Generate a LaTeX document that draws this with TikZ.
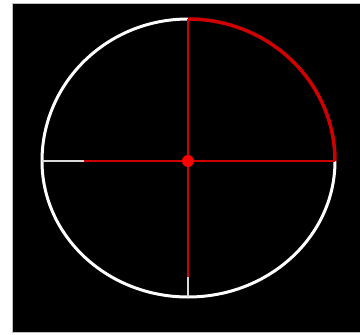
\documentclass[tikz,border=0pt]{standalone}
\begin{document}
\begin{tikzpicture}[x=1pt,y=-1pt,
  rim/.style={draw=white,line width=3pt},
  redline/.style={draw=red!82!black,line width=2.4pt},
  redarc/.style={draw=red!82!black,line width=3.5pt},
  stub/.style={draw=white!85!black,line width=2pt}]
\useasboundingbox (0,0) rectangle (360,335);
\fill[white] (0,0) rectangle (360,335);
\draw[fill=black,draw=gray!50,line width=1pt] (13,3.5) rectangle (361,332.5);
\coordinate (c) at (188,161);
\coordinate (t) at (188,19);
\coordinate (b) at (188,297);
\coordinate (l) at (42,161);
\coordinate (r) at (335,161);
\coordinate (hl) at (84,161);
\coordinate (vb) at (188,277);
% rim
\draw[rim] (t) arc[start angle=-90,end angle=-180,x radius=146,y radius=142];
\draw[rim] (l) arc[start angle=180,end angle=90,x radius=146,y radius=136];
\draw[rim] (b) arc[start angle=90,end angle=0,x radius=147,y radius=136];
\draw[redarc] (r) arc[start angle=0,end angle=-90,x radius=147,y radius=142];
% stubs
\draw[stub] (l) -- (hl);
\draw[stub] (vb) -- (b);
% red cross
\draw[redline] (hl) -- (r);
\draw[redline] (t) -- (vb);
\fill[red] (c) circle[radius=6];
\end{tikzpicture}
\end{document}
